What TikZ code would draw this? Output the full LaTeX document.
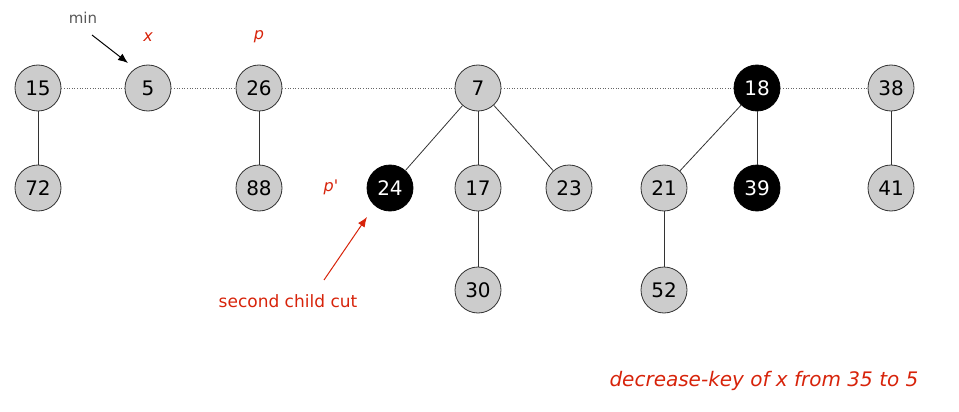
\documentclass[tikz,border=0pt]{standalone}
\usepackage{fontspec}
\setmainfont{DejaVu Sans}
\newfontfamily\plainsans{DejaVu Sans}
\usetikzlibrary{positioning, arrows.meta}
\definecolor{keygray}{RGB}{204,204,204}
\definecolor{notered}{RGB}{215,35,10}

\begin{document}
\begin{tikzpicture}[x=1pt, y=-1pt,
    key/.style = {circle, draw = black!80, line width = 0.8pt, fill = keygray,
                  minimum size = 46pt, inner sep = 0pt, font = \fontsize{20}{20}\selectfont},
    marked/.style = {key, fill = black, draw = black, text = white},
    child/.style = {draw = black!80, line width = 0.8pt},
    rootlist/.style = {draw = black!60, dotted, line width = 0.6pt},
    pointer/.style = {-{Latex[length = 10pt, width = 8pt]}, line width = 1pt},
    note/.style = {text = notered, font = \fontsize{17}{17}\selectfont},
    tag/.style = {text = notered, font = \fontsize{16}{16}\plainsans\itshape}]
    \useasboundingbox (0,0) rectangle (959,412);

    % root list
    \node [key]    (n15) at (38,88)  {15};
    \node [key]    (n5)  at (148,88) {5};
    \node [key]    (n26) at (259,88) {26};
    \node [key]    (n7)  at (478,88) {7};
    \node [marked] (n18) at (757,88) {18};
    \node [key]    (n38) at (891,88) {38};

    % second row
    \node [key]    (n72) at (38,188)  {72};
    \node [key]    (n88) at (259,188) {88};
    \node [marked] (n24) at (390,188) {24};
    \node [key]    (n17) at (478,188) {17};
    \node [key]    (n23) at (569,188) {23};
    \node [key]    (n21) at (664,188) {21};
    \node [marked] (n39) at (757,188) {39};
    \node [key]    (n41) at (891,188) {41};

    % third row
    \node [key] (n30) at (478,290) {30};
    \node [key] (n52) at (664,290) {52};

    \draw [rootlist] (n15) -- (n5);
    \draw [rootlist] (n5) -- (n26);
    \draw [rootlist] (n26) -- (n7);
    \draw [rootlist] (n7) -- (n18);
    \draw [rootlist] (n18) -- (n38);

    \draw [child] (n15) -- (n72);
    \draw [child] (n26) -- (n88);
    \draw [child] (n7) -- (n24);
    \draw [child] (n7) -- (n17);
    \draw [child] (n7) -- (n23);
    \draw [child] (n17) -- (n30);
    \draw [child] (n18) -- (n21);
    \draw [child] (n18) -- (n39);
    \draw [child] (n21) -- (n52);
    \draw [child] (n38) -- (n41);

    % labels
    \node [text = black!65, font = \fontsize{15}{15}\selectfont] (min) at (83,18) {min};
    \coordinate (mintail) at (92,35);
    \coordinate (minhead) at (128,63);
    \draw [pointer] (mintail) -- (minhead);
    \node [tag] (xlab) at (148,37) {x};
    \node [tag] (plab) at (259,37) {p};
    \node [tag] (pplab) at (331,187) {p'};
    \node [note] (cut) at (288,301) {second child cut};
    \coordinate (cuttail) at (324,280);
    \coordinate (cuthead) at (367,217);
    \draw [pointer, notered] (cuttail) -- (cuthead);
    \node [note, anchor = east, font = \fontsize{20}{20}\itshape] (caption) at (922,381) {decrease-key of x from 35 to 5};
\end{tikzpicture}
\end{document}
